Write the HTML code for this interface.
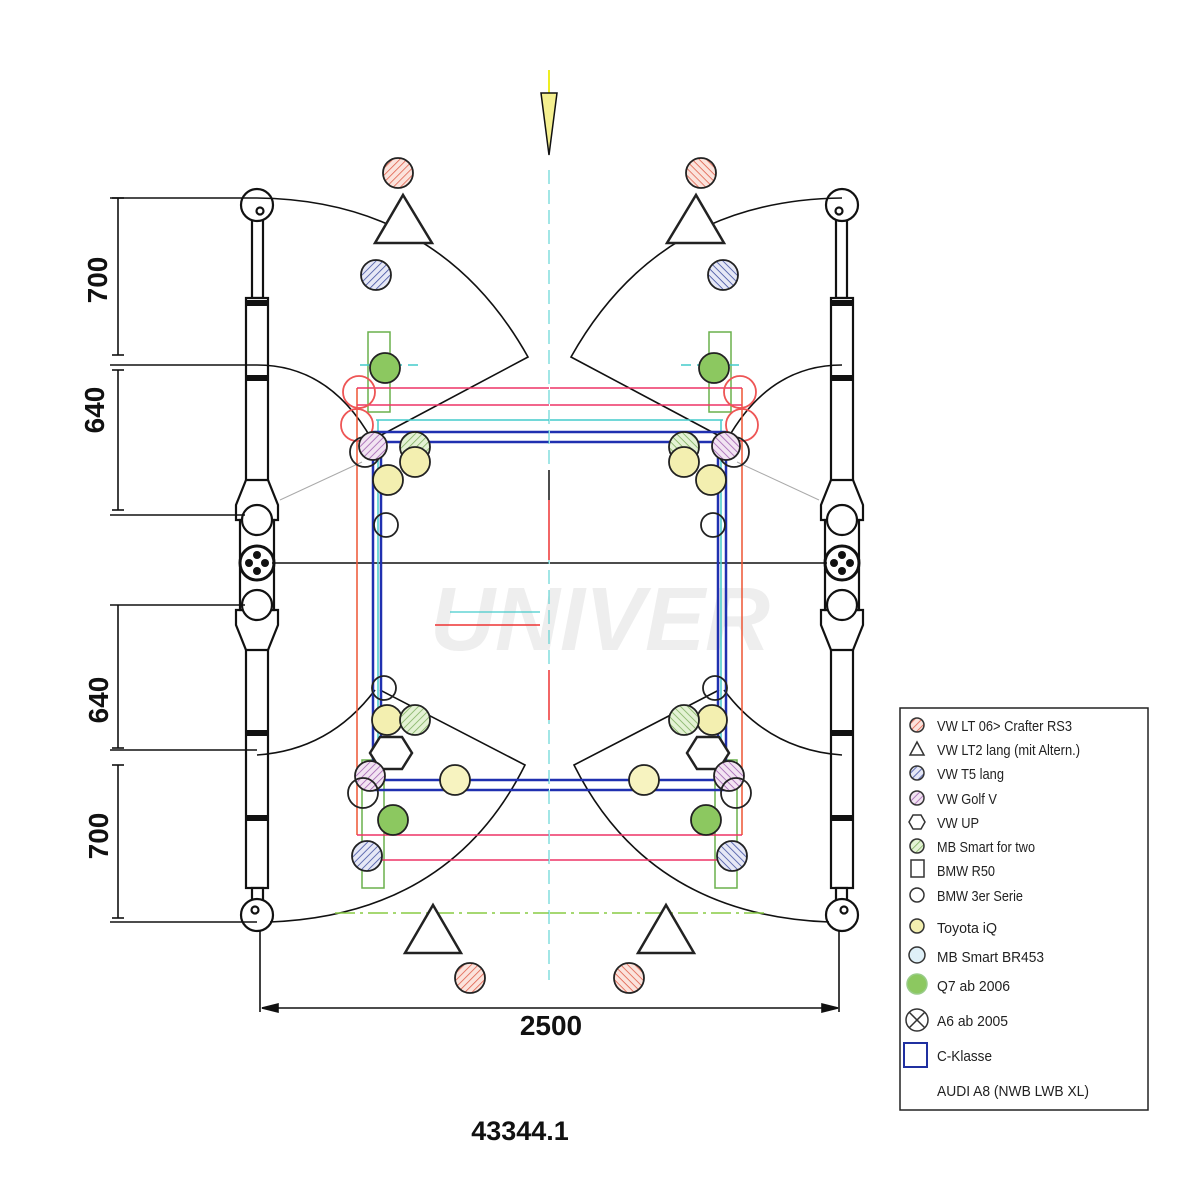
<!DOCTYPE html>
<html><head><meta charset="utf-8"><style>
html,body{margin:0;padding:0;background:#fff}
svg{display:block}
text{font-family:"Liberation Sans",Arial,sans-serif}
</style></head><body>
<svg width="1200" height="1200" viewBox="0 0 1200 1200" xmlns="http://www.w3.org/2000/svg" xmlns:xlink="http://www.w3.org/1999/xlink">
<defs>
<pattern id="hr" width="5" height="5" patternUnits="userSpaceOnUse" patternTransform="rotate(45)"><rect width="5" height="5" fill="#fbe3dc"/><line x1="0" y1="0" x2="0" y2="5" stroke="#e0604c" stroke-width="1.6"/></pattern>
<pattern id="hb" width="5" height="5" patternUnits="userSpaceOnUse" patternTransform="rotate(45)"><rect width="5" height="5" fill="#e6e8f6"/><line x1="0" y1="0" x2="0" y2="5" stroke="#4050a0" stroke-width="1.6"/></pattern>
<pattern id="hp" width="5" height="5" patternUnits="userSpaceOnUse" patternTransform="rotate(45)"><rect width="5" height="5" fill="#f2e4f2"/><line x1="0" y1="0" x2="0" y2="5" stroke="#a060b0" stroke-width="1.6"/></pattern>
<pattern id="hg" width="5" height="5" patternUnits="userSpaceOnUse" patternTransform="rotate(45)"><rect width="5" height="5" fill="#e4f2d4"/><line x1="0" y1="0" x2="0" y2="5" stroke="#80b060" stroke-width="1.6"/></pattern>
</defs>
<text x="600" y="650" font-size="90" font-weight="bold" font-style="italic" fill="#eee" text-anchor="middle">UNIVER</text>
<g id="half">
 <g stroke="#111" stroke-width="2.2" fill="#fff">
  <rect x="252" y="218" width="11" height="80"/>
  <rect x="246" y="298" width="22" height="200"/>
  <rect x="246" y="618" width="22" height="270"/>
  <rect x="252" y="888" width="11" height="22"/>
  <path d="M246 480 L236 505 L236 520 L278 520 L278 505 L268 480 Z"/>
  <path d="M236 610 L236 625 L246 650 L268 650 L278 625 L278 610 Z"/>
  <rect x="240" y="520" width="34" height="90"/>
  <circle cx="257" cy="205" r="16"/><circle cx="260" cy="211" r="3.5"/>
  <circle cx="257" cy="915" r="16"/><circle cx="255" cy="910" r="3.5"/>
  <circle cx="257" cy="520" r="15"/><circle cx="257" cy="605" r="15"/>
  <circle cx="257" cy="563" r="17" stroke-width="3"/>
 </g>
 <g fill="#111">
  <rect x="246" y="300" width="22" height="6"/><rect x="246" y="375" width="22" height="6"/>
  <rect x="246" y="730" width="22" height="6"/><rect x="246" y="815" width="22" height="6"/>
  <circle cx="257" cy="555" r="4"/><circle cx="257" cy="571" r="4"/><circle cx="249" cy="563" r="4"/><circle cx="265" cy="563" r="4"/>
 </g>
 <g stroke="#111" stroke-width="1.6" fill="none">
  <line x1="272" y1="563" x2="549" y2="563"/>
  <path d="M257 198 Q440 200 528 357 L372 440"/>
  <path d="M257 365 Q330 365 372 440"/>
  <path d="M375 690 Q330 750 257 755"/>
  <path d="M380 690 L525 765 Q450 915 270 922"/>
  <line x1="260" y1="930" x2="260" y2="1012"/>
 </g>
 <line x1="280" y1="500" x2="362" y2="462" stroke="#aaa" stroke-width="1"/>
 <g fill="none" stroke-width="1.5">
  <rect x="368" y="332" width="22" height="80" stroke="#6ab04c"/>
  <rect x="362" y="760" width="22" height="128" stroke="#6ab04c"/>
  <line x1="357" y1="388" x2="357" y2="835" stroke="#e53"/>
  <line x1="357" y1="388" x2="549" y2="388" stroke="#e36"/>
  <line x1="357" y1="405" x2="549" y2="405" stroke="#e36"/>
  <line x1="357" y1="835" x2="549" y2="835" stroke="#e36"/>
  <line x1="357" y1="860" x2="549" y2="860" stroke="#e36"/>
  <line x1="376" y1="420" x2="549" y2="420" stroke="#4cc"/>
  <line x1="378" y1="420" x2="378" y2="780" stroke="#4cc"/>
  <line x1="360" y1="365" x2="420" y2="365" stroke="#4cc" stroke-dasharray="10 6"/>
  <line x1="335" y1="913" x2="549" y2="913" stroke="#8c4" stroke-dasharray="20 5 3 5"/>
 </g>
 <g fill="none" stroke="#2030b0" stroke-width="2.5">
  <line x1="373" y1="432" x2="549" y2="432"/><line x1="373" y1="442" x2="549" y2="442"/>
  <line x1="373" y1="432" x2="373" y2="790"/><line x1="381" y1="442" x2="381" y2="780"/>
  <line x1="373" y1="790" x2="549" y2="790"/><line x1="381" y1="780" x2="549" y2="780"/>
 </g>
 <g stroke="#222" stroke-width="1.8">
  <circle cx="398" cy="173" r="15" fill="url(#hr)"/>
  <polygon points="375,243 432,243 403,195" fill="#fff" stroke-width="2.5"/>
  <circle cx="376" cy="275" r="15" fill="url(#hb)"/>
  <circle cx="385" cy="368" r="15" fill="#8cc860"/>
  <circle cx="359" cy="392" r="16" fill="none" stroke="#e55"/>
  <circle cx="357" cy="425" r="16" fill="none" stroke="#e55"/>
  <circle cx="365" cy="452" r="15" fill="none"/>
  <circle cx="373" cy="446" r="14" fill="url(#hp)"/>
  <circle cx="415" cy="447" r="15" fill="url(#hg)"/>
  <circle cx="415" cy="462" r="15" fill="#f3efb0"/>
  <circle cx="388" cy="480" r="15" fill="#f3efb0"/>
  <circle cx="386" cy="525" r="12" fill="none"/>
  <circle cx="384" cy="688" r="12" fill="none"/>
  <circle cx="387" cy="720" r="15" fill="#f3efb0"/>
  <circle cx="415" cy="720" r="15" fill="url(#hg)"/>
  <polygon points="380,737 402,737 412,753 402,769 380,769 370,753" fill="#fff" stroke-width="2.5"/>
  <circle cx="370" cy="776" r="15" fill="url(#hp)"/>
  <circle cx="363" cy="793" r="15" fill="none"/>
  <circle cx="455" cy="780" r="15" fill="#f7f3c0"/>
  <circle cx="393" cy="820" r="15" fill="#8cc860"/>
  <circle cx="367" cy="856" r="15" fill="url(#hb)"/>
  <polygon points="405,953 461,953 433,905" fill="#fff" stroke-width="2.5"/>
  <circle cx="470" cy="978" r="15" fill="url(#hr)"/>
 </g>
</g>
<use href="#half" xlink:href="#half" transform="translate(1099,0) scale(-1,1)"/>
<g stroke="#111" stroke-width="1.6" fill="none">
  <line x1="110" y1="198" x2="257" y2="198"/>
  <line x1="110" y1="365" x2="257" y2="365"/>
  <line x1="110" y1="515" x2="245" y2="515"/>
  <line x1="110" y1="605" x2="245" y2="605"/>
  <line x1="110" y1="750" x2="257" y2="750"/>
  <line x1="110" y1="922" x2="257" y2="922"/>
  <line x1="118" y1="198" x2="118" y2="355"/>
  <line x1="118" y1="370" x2="118" y2="510"/>
  <line x1="118" y1="605" x2="118" y2="748"/>
  <line x1="118" y1="765" x2="118" y2="918"/>
</g>
<line x1="549" y1="170" x2="549" y2="980" stroke="#4cc" stroke-width="1" stroke-dasharray="14 6"/>
<line x1="549" y1="470" x2="549" y2="500" stroke="#111" stroke-width="1.5"/>
<line x1="549" y1="500" x2="549" y2="560" stroke="#e33" stroke-width="1.5"/>
<line x1="549" y1="670" x2="549" y2="720" stroke="#e33" stroke-width="1.5"/>
<line x1="435" y1="625" x2="540" y2="625" stroke="#e33" stroke-width="1.5"/>
<line x1="450" y1="612" x2="540" y2="612" stroke="#4cc" stroke-width="1.2"/>
<line x1="549" y1="70" x2="549" y2="95" stroke="#ee2" stroke-width="2"/>
<polygon points="541,93 557,93 549,155" fill="#f5f090" stroke="#111" stroke-width="1.5"/>
<g stroke="#111" stroke-width="1.6">
 <line x1="262" y1="1008" x2="837" y2="1008"/>
 <polygon points="262,1008 278,1004 278,1012" fill="#111"/>
 <polygon points="838,1008 822,1004 822,1012" fill="#111"/>
 <line x1="112" y1="198" x2="124" y2="198"/><line x1="112" y1="355" x2="124" y2="355"/>
 <line x1="112" y1="370" x2="124" y2="370"/><line x1="112" y1="510" x2="124" y2="510"/>
 <line x1="112" y1="748" x2="124" y2="748"/><line x1="112" y1="765" x2="124" y2="765"/>
 <line x1="112" y1="918" x2="124" y2="918"/>
</g>
<g font-weight="bold" font-size="28" fill="#111">
 <text transform="translate(107,280) rotate(-90)" text-anchor="middle">700</text>
 <text transform="translate(104,410) rotate(-90)" text-anchor="middle">640</text>
 <text transform="translate(108,700) rotate(-90)" text-anchor="middle">640</text>
 <text transform="translate(108,836) rotate(-90)" text-anchor="middle">700</text>
 <text x="551" y="1035" text-anchor="middle">2500</text>
 <text x="520" y="1140" text-anchor="middle" font-size="27">43344.1</text>
</g>
<rect x="900" y="708" width="248" height="402" fill="#fff" stroke="#222" stroke-width="1.5"/>
<g stroke="#333" stroke-width="1.5">
 <circle cx="917" cy="725" r="7" fill="url(#hr)"/>
 <polygon points="910,755 924,755 917,742" fill="#fff"/>
 <circle cx="917" cy="773" r="7" fill="url(#hb)"/>
 <circle cx="917" cy="798" r="7" fill="url(#hp)"/>
 <polygon points="913,815 921,815 925,822 921,829 913,829 909,822" fill="#fff"/>
 <circle cx="917" cy="846" r="7" fill="url(#hg)"/>
 <rect x="911" y="860" width="13" height="17" fill="#fff"/>
 <circle cx="917" cy="895" r="7" fill="#fff"/>
 <circle cx="917" cy="926" r="7" fill="#f3efb0"/>
 <circle cx="917" cy="955" r="8" fill="#dff0f8"/>
 <circle cx="917" cy="984" r="10" fill="#8cc860" stroke="#9c8"/>
 <circle cx="917" cy="1020" r="11" fill="#fff"/>
 <line x1="909" y1="1012" x2="925" y2="1028"/><line x1="925" y1="1012" x2="909" y2="1028"/>
 <rect x="904" y="1043" width="23" height="24" fill="none" stroke="#2030a0" stroke-width="2"/>
</g>
<g font-size="15" fill="#222">
 <text x="937" y="731" textLength="135" lengthAdjust="spacingAndGlyphs">VW LT 06&gt; Crafter RS3</text>
 <text x="937" y="755" textLength="143" lengthAdjust="spacingAndGlyphs">VW LT2 lang (mit Altern.)</text>
 <text x="937" y="779" textLength="67" lengthAdjust="spacingAndGlyphs">VW T5 lang</text>
 <text x="937" y="804" textLength="60" lengthAdjust="spacingAndGlyphs">VW Golf V</text>
 <text x="937" y="828" textLength="42" lengthAdjust="spacingAndGlyphs">VW UP</text>
 <text x="937" y="852" textLength="98" lengthAdjust="spacingAndGlyphs">MB Smart for two</text>
 <text x="937" y="876" textLength="58" lengthAdjust="spacingAndGlyphs">BMW R50</text>
 <text x="937" y="901" textLength="86" lengthAdjust="spacingAndGlyphs">BMW 3er Serie</text>
 <text x="937" y="933" textLength="60" lengthAdjust="spacingAndGlyphs">Toyota iQ</text>
 <text x="937" y="962" textLength="107" lengthAdjust="spacingAndGlyphs">MB Smart BR453</text>
 <text x="937" y="991" textLength="73" lengthAdjust="spacingAndGlyphs">Q7 ab 2006</text>
 <text x="937" y="1026" textLength="71" lengthAdjust="spacingAndGlyphs">A6 ab 2005</text>
 <text x="937" y="1061" textLength="55" lengthAdjust="spacingAndGlyphs">C-Klasse</text>
 <text x="937" y="1096" textLength="152" lengthAdjust="spacingAndGlyphs">AUDI A8 (NWB LWB XL)</text>
</g>
</svg>
</body></html>
